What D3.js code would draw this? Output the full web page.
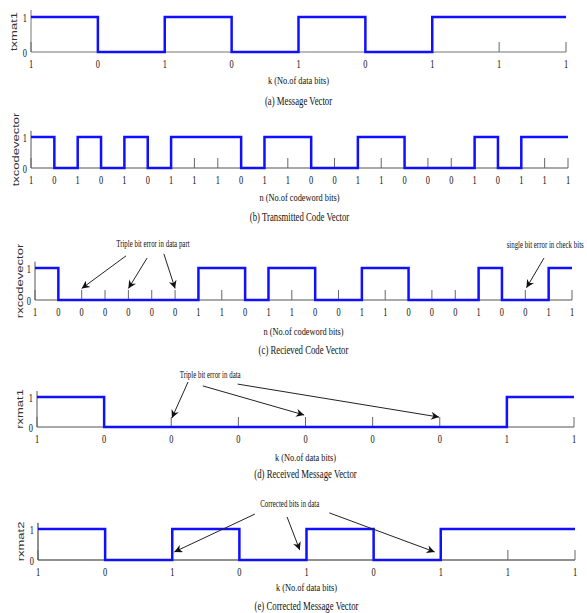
<!DOCTYPE html>
<html>
<head>
<meta charset="utf-8">
<script src="https://cdn.jsdelivr.net/npm/d3@7"></script>
<style>
  body { margin: 0; background: #fff; }
  text { font-family: "Liberation Serif", "Times New Roman", serif; fill: #111; }
  text.ylab { font-family: "Liberation Sans", Arial, sans-serif; fill: #333; }
</style>
</head>
<body>
<svg id="chart" width="587" height="613"></svg>
<script>
// bit vectors
const txmat1 = [1, 0, 1, 0, 1, 0, 1, 1, 1];
const txcodevector = [1, 0, 1, 0, 1, 0, 1, 1, 1, 0, 1, 1, 0, 0, 1, 1, 0, 0, 0, 1, 0, 1, 1, 1];
const rxcodevector = [1, 0, 0, 0, 0, 0, 0, 1, 1, 0, 1, 1, 0, 0, 1, 1, 0, 0, 0, 1, 0, 0, 1, 1];
const rxmat1 = [1, 0, 0, 0, 0, 0, 0, 1, 1];
const rxmat2 = [1, 0, 1, 0, 1, 0, 1, 1, 1];

// annotations, in data units: [fromIndex, fromValue, toIndex, toValue]
const notesC = [
  { text: 'Triple bit error in data part', i: 5.05, v: 1.66, anchor: 'middle',
    arrows: [[3.9, 1.38, 2.0, 0.36], [4.8, 1.31, 4.0, 0.36], [5.52, 1.44, 6.0, 0.36]] },
  { text: 'single bit error in check bits', i: 20.2, v: 1.63, anchor: 'start',
    arrows: [[21.8, 1.31, 21.05, 0.38]] }
];
const notesD = [
  { text: 'Triple bit error in data', i: 2.58, v: 1.63, anchor: 'middle',
    arrows: [[2.25, 1.5, 2.01, 0.3], [2.47, 1.37, 3.98, 0.4], [2.99, 1.43, 5.99, 0.33]] }
];
const notesE = [
  { text: 'Corrected  bits in data', i: 3.75, v: 1.71, anchor: 'middle',
    arrows: [[3.23, 1.48, 2.03, 0.26], [3.71, 1.39, 3.9, 0.32], [4.34, 1.52, 5.91, 0.26]] }
];

const panels = [
  { data: txmat1, ylabel: 'txmat1', xtitle: 'k (No.of data bits)', caption: '(a) Message Vector',
    left: 31, right: 566, y0: 52, y1: 17, ylx: 17, capDy: 53, titleDy: 32, axisColor: '#777', notes: [] },
  { data: txcodevector, ylabel: 'txcodevector', xtitle: 'n (No.of codeword bits)', caption: '(b) Transmitted Code Vector',
    left: 31, right: 568, y0: 168, y1: 137, ylx: 19, capDy: 53, titleDy: 33, axisColor: '#555', notes: [] },
  { data: rxcodevector, ylabel: 'rxcodevector', xtitle: 'n (No.of codeword bits)', caption: '(c) Recieved Code Vector',
    left: 35, right: 572, y0: 300, y1: 268, ylx: 23, capDy: 54, titleDy: 35, axisColor: '#555', notes: notesC },
  { data: rxmat1, ylabel: 'rxmat1', xtitle: 'k (No.of data bits)', caption: '(d) Received Message Vector',
    left: 37, right: 574, y0: 427, y1: 397, ylx: 23, capDy: 51, titleDy: 34, axisColor: '#555', notes: notesD },
  { data: rxmat2, ylabel: 'rxmat2', xtitle: 'k (No.of data bits)', caption: '(e) Corrected Message Vector',
    left: 38, right: 575, y0: 560, y1: 529, ylx: 24, capDy: 50, titleDy: 31, axisColor: '#222', notes: notesE }
];

const svg = d3.select('#chart');

svg.append('defs').append('marker')
  .attr('id', 'head')
  .attr('viewBox', '0 0 10 10')
  .attr('refX', 10).attr('refY', 5)
  .attr('markerWidth', 9).attr('markerHeight', 8)
  .attr('markerUnits', 'userSpaceOnUse')
  .attr('orient', 'auto')
  .append('path')
  .attr('d', 'M0,0 L10,5 L0,10 L3,5 Z')
  .attr('fill', '#111');

// condensed text helper
function label(g, x, y, s, size, anchor, sx) {
  return g.append('text')
    .attr('transform', `translate(${x},${y}) scale(${sx},1)`)
    .attr('text-anchor', anchor)
    .attr('font-size', size)
    .text(s);
}

panels.forEach(p => {
  const g = svg.append('g');
  const n = p.data.length;

  const x = d3.scaleLinear().domain([0, n - 1]).range([p.left, p.right]);
  const y = d3.scaleLinear().domain([0, 1]).range([p.y0, p.y1]);

  // left axis line
  g.append('line')
    .attr('x1', p.left).attr('x2', p.left)
    .attr('y1', y(0)).attr('y2', y(1.2))
    .attr('stroke', p.axisColor).attr('stroke-width', 1);

  // bottom axis with inward ticks
  g.append('line')
    .attr('x1', p.left).attr('x2', p.right)
    .attr('y1', y(0)).attr('y2', y(0))
    .attr('stroke', p.axisColor).attr('stroke-width', 1.2);

  g.selectAll('line.tick')
    .data(d3.range(n))
    .enter()
    .append('line')
    .attr('class', 'tick')
    .attr('x1', i => x(i)).attr('x2', i => x(i))
    .attr('y1', y(0)).attr('y2', y(0) - 10)
    .attr('stroke', '#666').attr('stroke-width', 1);

  // bit labels under ticks
  p.data.forEach((d, i) => label(g, x(i), y(0) + 16, d, 13.5, 'middle', 0.62));

  // y tick labels
  [0, 1].forEach(v => label(g, p.left - 4, y(v) + 5, v, 13.5, 'end', 0.62));

  // the bit signal
  const line = d3.line()
    .x((d, i) => x(i))
    .y(d => y(d))
    .curve(d3.curveStepAfter);

  g.append('path')
    .datum(p.data)
    .attr('d', line)
    .attr('fill', 'none')
    .attr('stroke', '#1010ff')
    .attr('stroke-width', 2.5);

  // y label (rotated, narrow)
  g.append('text')
    .attr('class', 'ylab')
    .attr('transform', `translate(${p.ylx},${(p.y0 + p.y1) / 2 - 3}) rotate(-90) scale(1,0.7)`)
    .attr('text-anchor', 'middle')
    .attr('font-size', 13)
    .text(p.ylabel);

  // x title and caption
  label(g, (p.left + p.right) / 2, p.y0 + p.titleDy, p.xtitle, 11, 'middle', 0.76);
  label(g, (p.left + p.right) / 2, p.y0 + p.capDy, p.caption, 11.5, 'middle', 0.76);

  // annotations
  p.notes.forEach(nt => {
    label(g, x(nt.i), y(nt.v), nt.text, 10, nt.anchor, 0.69);
    nt.arrows.forEach(a => {
      g.append('line')
        .attr('x1', x(a[0])).attr('y1', y(a[1]))
        .attr('x2', x(a[2])).attr('y2', y(a[3]))
        .attr('stroke', '#222').attr('stroke-width', 1)
        .attr('marker-end', 'url(#head)');
    });
  });
});
</script>
</body>
</html>
